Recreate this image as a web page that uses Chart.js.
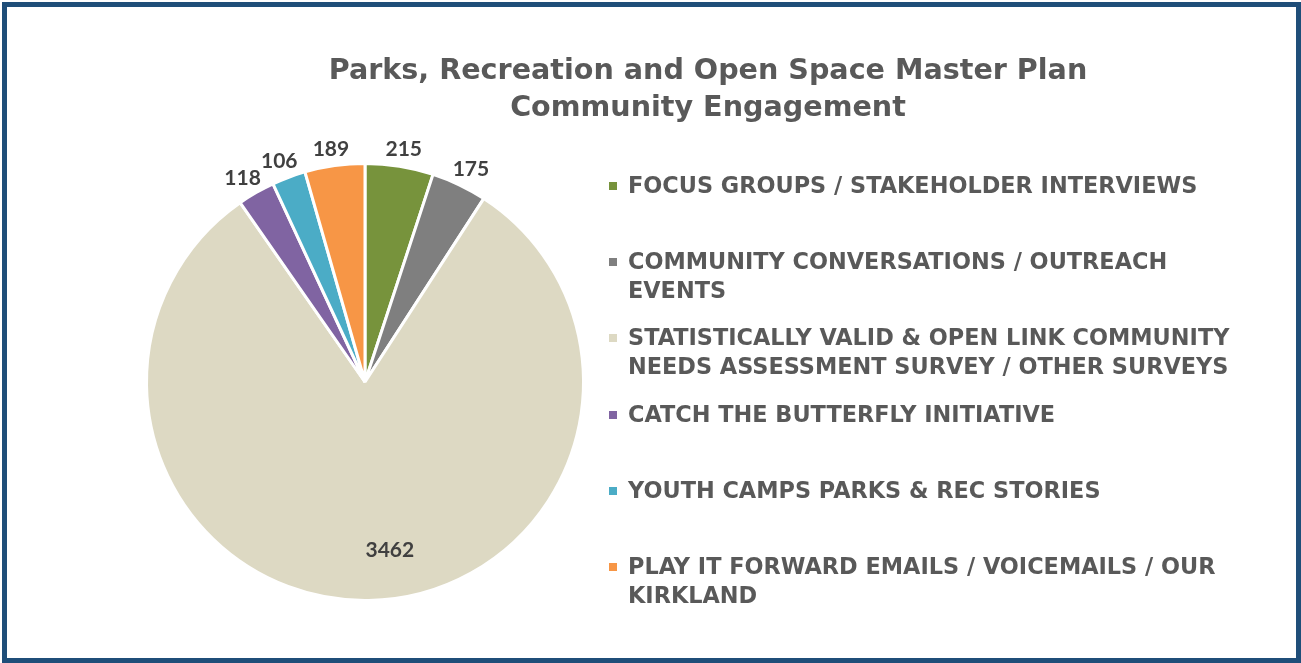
<!DOCTYPE html>
<html>
<head>
<meta charset="utf-8">
<script src="https://cdn.jsdelivr.net/npm/chart.js@4.4.1/dist/chart.umd.min.js"></script>
<style>
  html, body { margin: 0; padding: 0; background: #fff; }
  #frame {
    position: absolute; left: 2px; top: 2px; width: 1289px; height: 651px;
    border: 5px solid #1f4e79; background: #fff;
  }
  #chart { position: absolute; left: 0; top: 0; }
  #title {
    position: absolute; left: 308px; width: 800px; top: 51px;
    text-align: center; color: #595959;
    font: bold 28.6px "DejaVu Sans", sans-serif;
    line-height: 37px;
  }
  #legend { position: absolute; left: 609px; top: 171px; }
  .item { position: relative; height: 76.2px; }
  .item .box { position: absolute; left: 0; top: 11px; width: 8px; height: 8px; }
  .item .txt {
    position: absolute; left: 19px; top: 0; white-space: nowrap; color: #595959;
    font: bold 22.4px "DejaVu Sans", sans-serif;
    line-height: 29px;
  }
</style>
</head>
<body>
<div id="frame"></div>
<canvas id="chart" width="1301" height="663"></canvas>
<div id="title">Parks, Recreation and Open Space Master Plan<br>Community Engagement</div>
<div id="legend"></div>
<script>
// ── Data ──────────────────────────────────────────────────────────────────────
const categories = [
  ['FOCUS GROUPS / STAKEHOLDER INTERVIEWS'],
  ['COMMUNITY CONVERSATIONS / OUTREACH', 'EVENTS'],
  ['STATISTICALLY VALID & OPEN LINK COMMUNITY', 'NEEDS ASSESSMENT SURVEY / OTHER SURVEYS'],
  ['CATCH THE BUTTERFLY INITIATIVE'],
  ['YOUTH CAMPS PARKS & REC STORIES'],
  ['PLAY IT FORWARD EMAILS / VOICEMAILS / OUR', 'KIRKLAND']
];
const participants = [215, 175, 3462, 118, 106, 189];
const sliceColors  = ['#77933c', '#7f7f7f', '#ddd9c3', '#8064a2', '#4bacc6', '#f79646'];

// ── Data labels (outside for small slices, inside for the big one) ───────────
const valueLabels = {
  id: 'valueLabels',
  afterDatasetsDraw(chart) {
    const ctx = chart.ctx;
    const meta = chart.getDatasetMeta(0);
    ctx.save();
    ctx.font = 'bold 21px Lato, "Open Sans", sans-serif';
    ctx.fillStyle = '#404040';
    ctx.textAlign = 'center';
    ctx.textBaseline = 'middle';
    meta.data.forEach((arc, i) => {
      const { x, y, startAngle, endAngle, outerRadius } = arc.getProps(['x', 'y', 'startAngle', 'endAngle', 'outerRadius'], true);
      const mid = (startAngle + endAngle) / 2;
      const dx = Math.cos(mid), dy = Math.sin(mid);
      const txt = String(participants[i]);
      let px, py;
      if (participants[i] > 1000) {
        px = x + dx * outerRadius * 0.77 + 22;
        py = y + dy * outerRadius * 0.77;
      } else {
        const w = ctx.measureText(txt).width, h = 16;
        px = x + dx * (outerRadius + 9) + dx * w / 2;
        py = y + dy * (outerRadius + 9) + dy * h / 2;
      }
      ctx.fillText(txt, px, py);
    });
    ctx.restore();
  }
};

const chart = new Chart(document.getElementById('chart'), {
  type: 'pie',
  data: {
    labels: categories.map(c => c.join(' ')),
    datasets: [{
      data: participants,
      backgroundColor: sliceColors,
      borderColor: '#ffffff',
      borderWidth: 3
    }]
  },
  options: {
    responsive: false,
    animation: false,
    layout: { padding: { left: 145, top: 162, right: 716, bottom: 61 } },
    plugins: {
      legend: { display: false },
      title: { display: false },
      tooltip: { enabled: false }
    }
  },
  plugins: [valueLabels]
});

// ── HTML legend built from the chart's own data ──────────────────────────────
const legendEl = document.getElementById('legend');
chart.data.labels.forEach((_, i) => {
  const item = document.createElement('div');
  item.className = 'item';
  item.innerHTML = `<div class="box" style="background:${chart.data.datasets[0].backgroundColor[i]}"></div>` +
    `<div class="txt">${categories[i].map(s => s.replace(/&/g, '&amp;')).join('<br>')}</div>`;
  legendEl.appendChild(item);
});
</script>
</body>
</html>
